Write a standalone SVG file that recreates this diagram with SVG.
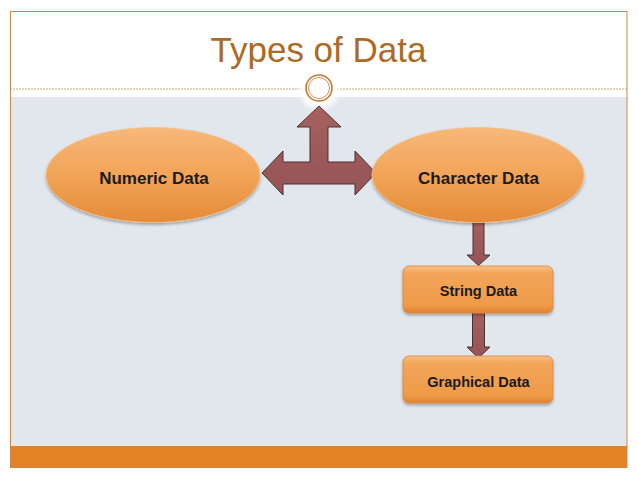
<svg xmlns="http://www.w3.org/2000/svg" width="638" height="479" viewBox="0 0 638 479">
<defs>
<style>
.lbl{font-family:"Liberation Sans",Arial,sans-serif;font-weight:bold;fill:#1a1a1a;text-anchor:middle}
.arrow{fill:url(#ag);stroke:#4a3030;stroke-width:1}
.ell{fill:url(#eg);stroke:#f3c189;stroke-width:0.8;filter:url(#sh)}
.box{fill:url(#bg);stroke:#d8853a;stroke-width:0.8;filter:url(#sh)}
</style>
<linearGradient id="eg" x1="0" y1="0" x2="0" y2="1">
<stop offset="0" stop-color="#f7b87a"/>
<stop offset="0.5" stop-color="#f2a458"/>
<stop offset="1" stop-color="#e48b38"/>
</linearGradient>
<linearGradient id="bg" x1="0" y1="0" x2="0" y2="1">
<stop offset="0" stop-color="#f8c08a"/>
<stop offset="0.15" stop-color="#f3a55a"/>
<stop offset="0.85" stop-color="#ee9a48"/>
<stop offset="1" stop-color="#e0822e"/>
</linearGradient>
<linearGradient id="ag" x1="0" y1="0" x2="0" y2="1">
<stop offset="0" stop-color="#a6605f"/>
<stop offset="1" stop-color="#955456"/>
</linearGradient>
<filter id="sh" x="-20%" y="-20%" width="140%" height="150%">
<feDropShadow dx="0" dy="2" stdDeviation="1.5" flood-color="#000" flood-opacity="0.3"/>
</filter>
<filter id="blur" x="-50%" y="-50%" width="200%" height="200%">
<feGaussianBlur stdDeviation="2.5"/>
</filter>
</defs>
<rect x="0" y="0" width="638" height="479" fill="#ffffff"/>
<g id="frame">
<rect x="10" y="97" width="617" height="349" fill="#e2e7ee"/>
<rect x="10" y="446" width="617" height="21" fill="#e38325"/>
<line x1="10" y1="445.5" x2="627" y2="445.5" stroke="#f4e6d8" stroke-width="1"/>
<rect x="10.5" y="11.5" width="616.5" height="456" fill="none" stroke="#c8894a" stroke-width="1"/>
<line x1="10" y1="89" x2="627" y2="89" stroke="#c89052" stroke-width="0.8" stroke-dasharray="2,1"/>
<circle cx="319" cy="90" r="19" fill="#ffffff" filter="url(#blur)"/>
<circle cx="319" cy="88" r="17" fill="#ffffff"/>
<circle cx="319" cy="88" r="13" fill="#ffffff" stroke="#c07a35" stroke-width="1.6"/>
<circle cx="319" cy="88" r="10.5" fill="#ffffff" stroke="#c9894a" stroke-width="0.9"/>
</g>
<g id="title">
<text x="318.5" y="62" font-family="'Liberation Sans',Arial,sans-serif" font-size="35" fill="#ac6a24" text-anchor="middle">Types of Data</text>
</g>
<g id="connectors">
<polygon class="arrow" points="319,106 341,127 328,127 328,162 355,162 355,151 376,173 355,195 355,184 283,184 283,195 262,173 283,151 283,162 310,162 310,127 297,127"/>
<polygon class="arrow" points="473,221 484,221 484,255 490,255 478.5,265.5 467,255 473,255"/>
<polygon class="arrow" points="472.5,312 484.5,312 484.5,347 490,347 478.5,358 467,347 472.5,347"/>
</g>
<g id="numeric">
<ellipse class="ell" cx="153" cy="175" rx="107" ry="47.5"/>
<text class="lbl" x="154" y="184" font-size="17">Numeric Data</text>
</g>
<g id="character">
<ellipse class="ell" cx="478" cy="175" rx="106" ry="47.5"/>
<text class="lbl" x="478.5" y="184" font-size="17">Character Data</text>
</g>
<g id="string">
<rect class="box" x="403" y="266" width="150" height="47" rx="6"/>
<text class="lbl" x="478.5" y="296" font-size="14.5">String Data</text>
</g>
<g id="graphical">
<rect class="box" x="403" y="356" width="150" height="47" rx="6"/>
<text class="lbl" x="478.5" y="386.5" font-size="14.5">Graphical Data</text>
</g>
</svg>
